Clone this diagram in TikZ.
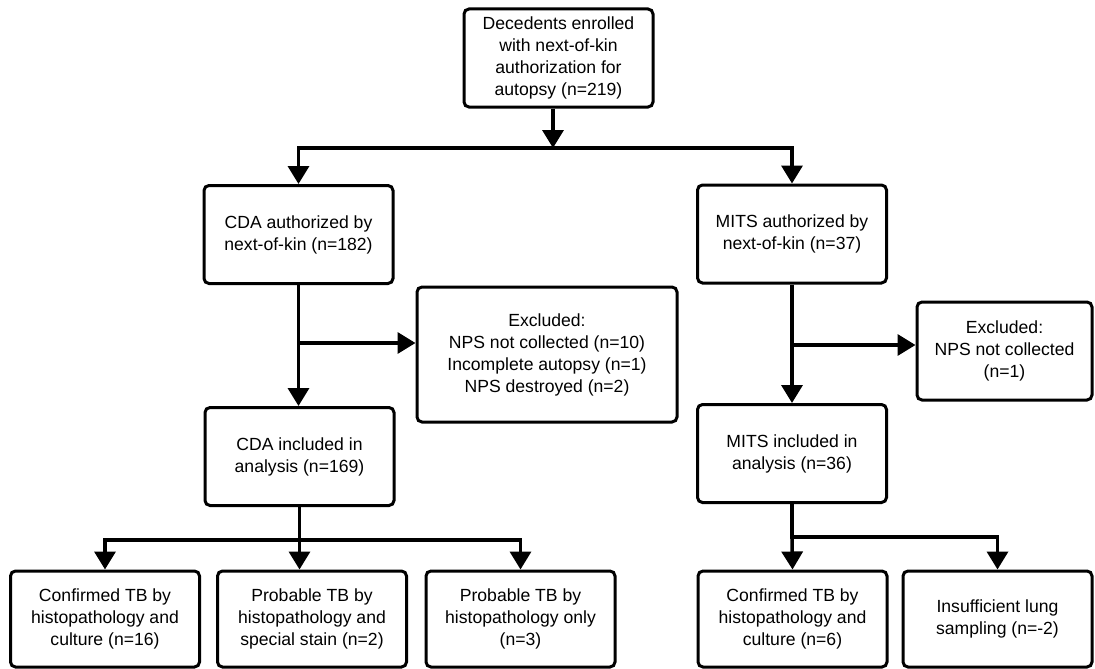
\documentclass[tikz,border=0pt]{standalone}
\usepackage{fontspec}
\setmainfont{Liberation Sans}
\usetikzlibrary{arrows.meta}
\tikzset{
  box/.style={draw, line width=3pt, rounded corners=5pt, align=center,
    minimum width=189pt, minimum height=98pt, inner sep=2pt,
    font=\fontsize{17.6}{22}\selectfont},
  link/.style={line width=3.5pt, line cap=rect},
  flow/.style={line width=3.5pt, -{Triangle[width=21pt,length=18pt]}},
}
\begin{document}
\begin{tikzpicture}[x=1pt,y=1pt]
  \useasboundingbox (0,0) rectangle (1095,-669);
  % boxes
  \node[box] (top) at (558.5,-58) {Decedents enrolled\\with next-of-kin\\authorization for\\autopsy (n=219)};
  \node[box] (cda) at (298.5,-234.5) {CDA authorized by\\next-of-kin (n=182)};
  \node[box] (mits) at (792,-234) {MITS authorized by\\next-of-kin (n=37)};
  \node[box, minimum width=260pt, minimum height=135pt] (exclcda) at (547,-354.5)
    {Excluded:\\NPS not collected (n=10)\\Incomplete autopsy (n=1)\\NPS destroyed (n=2)};
  \node[box, minimum width=175pt] (exclmits) at (1004.5,-351) {Excluded:\\NPS not collected\\(n=1)};
  \node[box] (cdain) at (299.5,-456.5) {CDA included in\\analysis (n=169)};
  \node[box] (mitsin) at (792,-453.5) {MITS included in\\analysis (n=36)};
  \foreach \name/\x/\txt in {
    cdaconf/105/{Confirmed TB by\\histopathology and\\culture (n=16)},
    cdastain/312/{Probable TB by\\histopathology and\\special stain (n=2)},
    cdahisto/520.5/{Probable TB by\\histopathology only\\(n=3)},
    mitsconf/792.5/{Confirmed TB by\\histopathology and\\culture (n=6)},
    mitslung/997.5/{Insufficient lung\\sampling (n=-2)}} {
    \node[box, minimum height=96pt] (\name) at (\x,-619) {\txt};
  }
  % junctions
  \coordinate (split) at (553,-148);
  \coordinate (cdaex) at (298.5,-343);
  \coordinate (mitsex) at (792,-345);
  \coordinate (cdasplit) at (299.5,-540);
  \coordinate (mitssplit) at (792,-537);
  % top split
  \draw[flow] (top.south -| split) -- (split);
  \draw[link] (cda.north |- split) -- (mits.north |- split);
  \draw[flow] (cda.north |- split) -- (cda.north);
  \draw[flow] (mits.north |- split) -- (mits.north);
  % exclusions
  \draw[flow] (cda.south) -- (cdain.north -| cda.south);
  \draw[flow] (cdaex) -- (exclcda.west |- cdaex);
  \draw[flow] (mits.south) -- (mitsin.north);
  \draw[flow] (mitsex) -- (exclmits.west |- mitsex);
  % outcomes
  \draw[link] (cdain.south) -- (cdasplit);
  \draw[link] (cdaconf.north |- cdasplit) -- (cdahisto.north |- cdasplit);
  \draw[flow] (cdaconf.north |- cdasplit) -- (cdaconf.north);
  \draw[flow] (cdasplit) -- (cdasplit |- cdastain.north);
  \draw[flow] (cdahisto.north |- cdasplit) -- (cdahisto.north);
  \draw[link] (mitsin.south) -- (mitssplit);
  \draw[link] (mitssplit) -- (mitslung.north |- mitssplit);
  \draw[flow] (mitssplit) -- (mitsconf.north);
  \draw[flow] (mitslung.north |- mitssplit) -- (mitslung.north);
\end{tikzpicture}
\end{document}
